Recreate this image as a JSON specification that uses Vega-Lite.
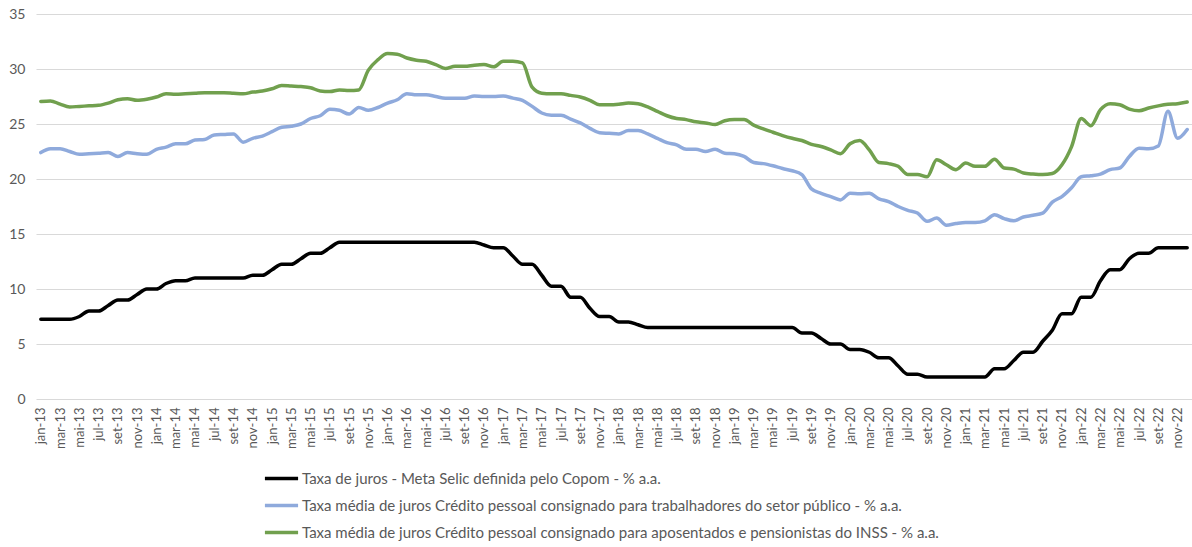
{
  "$schema": "https://vega.github.io/schema/vega-lite/v6.json",
  "width": 1156,
  "height": 385,
  "autosize": {"type": "none"},
  "padding": {"left": 36, "top": 14, "right": 0, "bottom": 148},
  "background": "white",
  "config": {"view": {"stroke": null}, "font": "Lato"},
  "data": {
    "values": [
      {"mes": "jan-13", "selic": 7.25, "publico": 22.4, "inss": 27.05},
      {"mes": "fev-13", "selic": 7.25, "publico": 22.75, "inss": 27.1},
      {"mes": "mar-13", "selic": 7.25, "publico": 22.75, "inss": 26.8},
      {"mes": "abr-13", "selic": 7.25, "publico": 22.5, "inss": 26.55},
      {"mes": "mai-13", "selic": 7.5, "publico": 22.25, "inss": 26.6},
      {"mes": "jun-13", "selic": 8.0, "publico": 22.3, "inss": 26.65},
      {"mes": "jul-13", "selic": 8.0, "publico": 22.35, "inss": 26.7},
      {"mes": "ago-13", "selic": 8.5, "publico": 22.4, "inss": 26.9},
      {"mes": "set-13", "selic": 9.0, "publico": 22.05, "inss": 27.2},
      {"mes": "out-13", "selic": 9.0, "publico": 22.4, "inss": 27.3},
      {"mes": "nov-13", "selic": 9.5, "publico": 22.3, "inss": 27.15},
      {"mes": "dez-13", "selic": 10.0, "publico": 22.25, "inss": 27.25},
      {"mes": "jan-14", "selic": 10.0, "publico": 22.7, "inss": 27.45},
      {"mes": "fev-14", "selic": 10.5, "publico": 22.9, "inss": 27.75},
      {"mes": "mar-14", "selic": 10.75, "publico": 23.2, "inss": 27.7},
      {"mes": "abr-14", "selic": 10.75, "publico": 23.2, "inss": 27.75},
      {"mes": "mai-14", "selic": 11.0, "publico": 23.55, "inss": 27.8},
      {"mes": "jun-14", "selic": 11.0, "publico": 23.6, "inss": 27.85},
      {"mes": "jul-14", "selic": 11.0, "publico": 24.0, "inss": 27.85},
      {"mes": "ago-14", "selic": 11.0, "publico": 24.05, "inss": 27.85},
      {"mes": "set-14", "selic": 11.0, "publico": 24.1, "inss": 27.8},
      {"mes": "out-14", "selic": 11.0, "publico": 23.35, "inss": 27.75},
      {"mes": "nov-14", "selic": 11.25, "publico": 23.7, "inss": 27.9},
      {"mes": "dez-14", "selic": 11.25, "publico": 23.9, "inss": 28.0},
      {"mes": "jan-15", "selic": 11.75, "publico": 24.3, "inss": 28.2},
      {"mes": "fev-15", "selic": 12.25, "publico": 24.7, "inss": 28.5},
      {"mes": "mar-15", "selic": 12.25, "publico": 24.8, "inss": 28.45},
      {"mes": "abr-15", "selic": 12.75, "publico": 25.0, "inss": 28.4},
      {"mes": "mai-15", "selic": 13.25, "publico": 25.5, "inss": 28.3},
      {"mes": "jun-15", "selic": 13.25, "publico": 25.75, "inss": 28.0},
      {"mes": "jul-15", "selic": 13.75, "publico": 26.35, "inss": 27.95},
      {"mes": "ago-15", "selic": 14.25, "publico": 26.25, "inss": 28.1},
      {"mes": "set-15", "selic": 14.25, "publico": 25.9, "inss": 28.05},
      {"mes": "out-15", "selic": 14.25, "publico": 26.5, "inss": 28.1},
      {"mes": "nov-15", "selic": 14.25, "publico": 26.25, "inss": 29.9},
      {"mes": "dez-15", "selic": 14.25, "publico": 26.5, "inss": 30.85},
      {"mes": "jan-16", "selic": 14.25, "publico": 26.9, "inss": 31.4},
      {"mes": "fev-16", "selic": 14.25, "publico": 27.2, "inss": 31.35},
      {"mes": "mar-16", "selic": 14.25, "publico": 27.75, "inss": 31.0},
      {"mes": "abr-16", "selic": 14.25, "publico": 27.65, "inss": 30.8},
      {"mes": "mai-16", "selic": 14.25, "publico": 27.65, "inss": 30.7},
      {"mes": "jun-16", "selic": 14.25, "publico": 27.5, "inss": 30.4},
      {"mes": "jul-16", "selic": 14.25, "publico": 27.35, "inss": 30.05},
      {"mes": "ago-16", "selic": 14.25, "publico": 27.35, "inss": 30.25},
      {"mes": "set-16", "selic": 14.25, "publico": 27.35, "inss": 30.25},
      {"mes": "out-16", "selic": 14.25, "publico": 27.55, "inss": 30.35},
      {"mes": "nov-16", "selic": 14.0, "publico": 27.5, "inss": 30.4},
      {"mes": "dez-16", "selic": 13.75, "publico": 27.5, "inss": 30.2},
      {"mes": "jan-17", "selic": 13.75, "publico": 27.55, "inss": 30.7},
      {"mes": "fev-17", "selic": 13.0, "publico": 27.35, "inss": 30.7},
      {"mes": "mar-17", "selic": 12.25, "publico": 27.15, "inss": 30.55},
      {"mes": "abr-17", "selic": 12.25, "publico": 26.6, "inss": 28.35},
      {"mes": "mai-17", "selic": 11.25, "publico": 26.0, "inss": 27.8},
      {"mes": "jun-17", "selic": 10.25, "publico": 25.8, "inss": 27.75},
      {"mes": "jul-17", "selic": 10.25, "publico": 25.8, "inss": 27.75},
      {"mes": "ago-17", "selic": 9.25, "publico": 25.45, "inss": 27.6},
      {"mes": "set-17", "selic": 9.25, "publico": 25.1, "inss": 27.45},
      {"mes": "out-17", "selic": 8.25, "publico": 24.6, "inss": 27.15},
      {"mes": "nov-17", "selic": 7.5, "publico": 24.2, "inss": 26.75},
      {"mes": "dez-17", "selic": 7.5, "publico": 24.15, "inss": 26.75},
      {"mes": "jan-18", "selic": 7.0, "publico": 24.1, "inss": 26.8},
      {"mes": "fev-18", "selic": 7.0, "publico": 24.4, "inss": 26.9},
      {"mes": "mar-18", "selic": 6.75, "publico": 24.4, "inss": 26.85},
      {"mes": "abr-18", "selic": 6.5, "publico": 24.1, "inss": 26.55},
      {"mes": "mai-18", "selic": 6.5, "publico": 23.7, "inss": 26.15},
      {"mes": "jun-18", "selic": 6.5, "publico": 23.3, "inss": 25.75},
      {"mes": "jul-18", "selic": 6.5, "publico": 23.1, "inss": 25.5},
      {"mes": "ago-18", "selic": 6.5, "publico": 22.7, "inss": 25.4},
      {"mes": "set-18", "selic": 6.5, "publico": 22.7, "inss": 25.2},
      {"mes": "out-18", "selic": 6.5, "publico": 22.5, "inss": 25.1},
      {"mes": "nov-18", "selic": 6.5, "publico": 22.7, "inss": 24.95},
      {"mes": "dez-18", "selic": 6.5, "publico": 22.35, "inss": 25.3},
      {"mes": "jan-19", "selic": 6.5, "publico": 22.3, "inss": 25.4},
      {"mes": "fev-19", "selic": 6.5, "publico": 22.05, "inss": 25.4},
      {"mes": "mar-19", "selic": 6.5, "publico": 21.5, "inss": 24.9},
      {"mes": "abr-19", "selic": 6.5, "publico": 21.4, "inss": 24.55},
      {"mes": "mai-19", "selic": 6.5, "publico": 21.2, "inss": 24.25},
      {"mes": "jun-19", "selic": 6.5, "publico": 20.95, "inss": 23.95},
      {"mes": "jul-19", "selic": 6.5, "publico": 20.75, "inss": 23.7},
      {"mes": "ago-19", "selic": 6.0, "publico": 20.4, "inss": 23.5},
      {"mes": "set-19", "selic": 6.0, "publico": 19.1, "inss": 23.15},
      {"mes": "out-19", "selic": 5.5, "publico": 18.7, "inss": 22.95},
      {"mes": "nov-19", "selic": 5.0, "publico": 18.4, "inss": 22.65},
      {"mes": "dez-19", "selic": 5.0, "publico": 18.1, "inss": 22.3},
      {"mes": "jan-20", "selic": 4.5, "publico": 18.7, "inss": 23.2},
      {"mes": "fev-20", "selic": 4.5, "publico": 18.65, "inss": 23.5},
      {"mes": "mar-20", "selic": 4.25, "publico": 18.7, "inss": 22.65},
      {"mes": "abr-20", "selic": 3.75, "publico": 18.2, "inss": 21.5},
      {"mes": "mai-20", "selic": 3.75, "publico": 17.95, "inss": 21.4},
      {"mes": "jun-20", "selic": 3.0, "publico": 17.5, "inss": 21.15},
      {"mes": "jul-20", "selic": 2.25, "publico": 17.15, "inss": 20.4},
      {"mes": "ago-20", "selic": 2.25, "publico": 16.9, "inss": 20.4},
      {"mes": "set-20", "selic": 2.0, "publico": 16.15, "inss": 20.2},
      {"mes": "out-20", "selic": 2.0, "publico": 16.45, "inss": 21.75},
      {"mes": "nov-20", "selic": 2.0, "publico": 15.8, "inss": 21.3},
      {"mes": "dez-20", "selic": 2.0, "publico": 15.95, "inss": 20.85},
      {"mes": "jan-21", "selic": 2.0, "publico": 16.05, "inss": 21.45},
      {"mes": "fev-21", "selic": 2.0, "publico": 16.05, "inss": 21.15},
      {"mes": "mar-21", "selic": 2.0, "publico": 16.2, "inss": 21.15},
      {"mes": "abr-21", "selic": 2.75, "publico": 16.75, "inss": 21.8},
      {"mes": "mai-21", "selic": 2.75, "publico": 16.4, "inss": 21.0},
      {"mes": "jun-21", "selic": 3.5, "publico": 16.2, "inss": 20.9},
      {"mes": "jul-21", "selic": 4.25, "publico": 16.55, "inss": 20.55},
      {"mes": "ago-21", "selic": 4.25, "publico": 16.7, "inss": 20.45},
      {"mes": "set-21", "selic": 5.25, "publico": 16.9, "inss": 20.4},
      {"mes": "out-21", "selic": 6.25, "publico": 17.9, "inss": 20.5},
      {"mes": "nov-21", "selic": 7.75, "publico": 18.4, "inss": 21.3},
      {"mes": "dez-21", "selic": 7.75, "publico": 19.2, "inss": 22.95},
      {"mes": "jan-22", "selic": 9.25, "publico": 20.2, "inss": 25.5},
      {"mes": "fev-22", "selic": 9.25, "publico": 20.3, "inss": 24.85},
      {"mes": "mar-22", "selic": 10.75, "publico": 20.45, "inss": 26.3},
      {"mes": "abr-22", "selic": 11.75, "publico": 20.85, "inss": 26.85},
      {"mes": "mai-22", "selic": 11.75, "publico": 21.0, "inss": 26.75},
      {"mes": "jun-22", "selic": 12.75, "publico": 22.05, "inss": 26.35},
      {"mes": "jul-22", "selic": 13.25, "publico": 22.8, "inss": 26.2},
      {"mes": "ago-22", "selic": 13.25, "publico": 22.75, "inss": 26.45},
      {"mes": "set-22", "selic": 13.75, "publico": 23.0, "inss": 26.65},
      {"mes": "out-22", "selic": 13.75, "publico": 26.15, "inss": 26.8},
      {"mes": "nov-22", "selic": 13.75, "publico": 23.7, "inss": 26.85},
      {"mes": "dez-22", "selic": 13.75, "publico": 24.5, "inss": 27.0}
    ]
  },
  "transform": [
    {"fold": ["selic", "publico", "inss"], "as": ["serie", "valor"]}
  ],
  "mark": {
    "type": "line",
    "interpolate": "monotone",
    "strokeWidth": 3.5,
    "strokeCap": "round",
    "strokeJoin": "round"
  },
  "encoding": {
    "x": {
      "field": "mes",
      "type": "ordinal",
      "sort": null,
      "scale": {"type": "point", "padding": 0.5},
      "axis": {
        "title": null,
        "domain": false,
        "ticks": false,
        "grid": false,
        "labelAngle": -90,
        "labelOverlap": false,
        "labelFontSize": 13,
        "labelColor": "#595959",
        "labelPadding": 8,
        "labelExpr": "indexof(['jan','mar','mai','jul','set','nov'], substring(datum.value, 0, 3)) >= 0 ? datum.value : ''"
      }
    },
    "y": {
      "field": "valor",
      "type": "quantitative",
      "scale": {"domain": [0, 35], "nice": false},
      "axis": {
        "title": null,
        "values": [0, 5, 10, 15, 20, 25, 30, 35],
        "domain": false,
        "ticks": false,
        "grid": true,
        "gridColor": "#d9d9d9",
        "gridWidth": 1,
        "labelFontSize": 14,
        "labelColor": "#595959",
        "labelPadding": 11
      }
    },
    "color": {
      "field": "serie",
      "type": "nominal",
      "scale": {
        "domain": ["selic", "publico", "inss"],
        "range": ["#000000", "#8faadc", "#71a04e"]
      },
      "legend": {
        "title": null,
        "orient": "none",
        "legendX": 227,
        "legendY": 446,
        "direction": "vertical",
        "symbolType": "stroke",
        "symbolSize": 1100,
        "symbolStrokeWidth": 3.5,
        "labelFontSize": 15,
        "labelColor": "#595959",
        "labelLimit": 0,
        "labelOffset": 2,
        "rowPadding": 0,
        "labelExpr": "datum.value === 'selic' ? 'Taxa de juros - Meta Selic definida pelo Copom - % a.a.' : datum.value === 'publico' ? 'Taxa média de juros Crédito pessoal consignado para trabalhadores do setor público - % a.a.' : 'Taxa média de juros Crédito pessoal consignado para aposentados e pensionistas do INSS - % a.a.'"
      }
    }
  }
}
